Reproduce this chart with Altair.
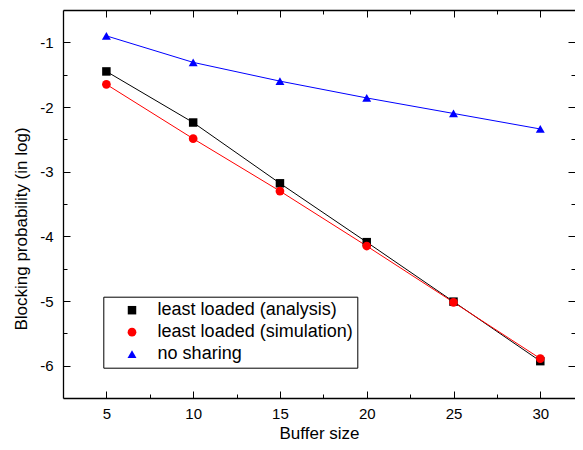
import altair as alt
import pandas as pd

buffer_sizes = [5, 10, 15, 20, 25, 30]
analysis = [-1.45, -2.24, -3.18, -4.09, -5.01, -5.93]
simulation = [-1.65, -2.49, -3.30, -4.15, -5.02, -5.89]
no_sharing = [-0.90, -1.31, -1.60, -1.86, -2.10, -2.34]

series_names = ["least loaded (analysis)", "least loaded (simulation)", "no sharing"]
colors = ["#000000", "#ff0000", "#0000ff"]
shapes = ["square", "circle", "triangle-up"]
marker_sizes = [72, 80, 115]

x_major = [5, 10, 15, 20, 25, 30]
x_minor = [7.5, 12.5, 17.5, 22.5, 27.5]
y_major = [-6, -5, -4, -3, -2, -1]
y_minor = [-5.5, -4.5, -3.5, -2.5, -1.5]

rows = []
for name, vals in zip(series_names, [analysis, simulation, no_sharing]):
    for b, v in zip(buffer_sizes, vals):
        rows.append({"buffer": b, "value": v, "series": name})
df = pd.DataFrame(rows)

FONT = "Liberation Sans"
xscale = alt.Scale(domain=[2.5, 32], nice=False, zero=False)
yscale = alt.Scale(domain=[-6.5, -0.5], nice=False, zero=False)


def tick_axis(values, size, orient):
    return alt.Axis(values=values, orient=orient, labels=False, domain=False, grid=False,
                    ticks=True, tickSize=size, tickColor="black", tickWidth=1,
                    offset=-size, title=None)


LEG = dict(orient="none", legendX=40.3, legendY=286.7, title=None,
           padding=4.5, rowPadding=4, symbolSize=81, symbolOpacity=1,
           symbolOffset=15.2, labelOffset=16.6, symbolStrokeWidth=0, strokeColor="black",
           labelFont=FONT, labelFontSize=18, labelColor="black", labelLimit=400)

base = alt.Chart(df)

lines = base.mark_line(strokeWidth=1).encode(
    x=alt.X("buffer:Q", scale=xscale,
            axis=alt.Axis(values=x_major, orient="bottom", ticks=False, grid=False,
                          domain=True, domainColor="black", domainWidth=1.3,
                          labelFontSize=15, labelFont=FONT, labelColor="black", labelPadding=8,
                          title="Buffer size", titleFont=FONT, titleFontSize=17, titleFontWeight="normal",
                          titleColor="black", titleBaseline="alphabetic", titleY=40)),
    y=alt.Y("value:Q", scale=yscale,
            axis=alt.Axis(values=y_major, orient="left", ticks=False, grid=False,
                          domain=True, domainColor="black", domainWidth=1.3,
                          labelFontSize=15, labelFont=FONT, labelColor="black", labelPadding=10,
                          labelExpr="'' + datum.value",
                          title="Blocking probability (in log)", titleFont=FONT, titleFontSize=17,
                          titleFontWeight="normal", titleColor="black", titleBaseline="alphabetic",
                          titleX=-36.3, titleY=218.5, titleAngle=270)),
    color=alt.Color("series:N", scale=alt.Scale(domain=series_names, range=colors),
                    legend=alt.Legend(**LEG)),
    detail="series:N",
)

points = base.mark_point(filled=True, opacity=1, strokeWidth=0).encode(
    x=alt.X("buffer:Q", scale=xscale, axis=tick_axis(x_major, 7, "bottom")),
    y=alt.Y("value:Q", scale=yscale, axis=tick_axis(y_major, 7, "left")),
    color=alt.Color("series:N", scale=alt.Scale(domain=series_names, range=colors),
                    legend=alt.Legend(**LEG)),
    shape=alt.Shape("series:N", scale=alt.Scale(domain=series_names, range=shapes),
                    legend=alt.Legend(**LEG)),
    size=alt.Size("series:N", scale=alt.Scale(domain=series_names, range=marker_sizes), legend=None),
)

empty = base.transform_filter("datum.buffer < 0").mark_point()

minor_bl = empty.encode(
    x=alt.X("buffer:Q", scale=xscale, axis=tick_axis(x_minor, 4, "bottom")),
    y=alt.Y("value:Q", scale=yscale, axis=tick_axis(y_minor, 4, "left")),
)
major_tr = empty.encode(
    x=alt.X("buffer:Q", scale=xscale, axis=tick_axis(x_major, 7, "top")),
    y=alt.Y("value:Q", scale=yscale, axis=tick_axis(y_major, 7, "right")),
)
minor_tr = empty.encode(
    x=alt.X("buffer:Q", scale=xscale, axis=tick_axis(x_minor, 4, "top")),
    y=alt.Y("value:Q", scale=yscale, axis=tick_axis(y_minor, 4, "right")),
)
frame_top = empty.encode(
    x=alt.X("buffer:Q", scale=xscale,
            axis=alt.Axis(orient="top", labels=False, ticks=False, grid=False, title=None,
                          domain=True, domainColor="black", domainWidth=1.3)),
    y=alt.Y("value:Q", scale=yscale,
            axis=alt.Axis(orient="left", labels=False, ticks=False, grid=False, title=None,
                          domain=False)),
)

chart = alt.layer(lines, points, minor_bl, major_tr, minor_tr, frame_top).resolve_axis(
    x="independent", y="independent"
).properties(
    width=512, height=388,
    autosize=alt.AutoSizeParams(type="none"),
    padding={"left": 55, "top": 2, "right": 0, "bottom": 44},
).configure_view(stroke=None).configure(background="white")

chart.save("out.html", embed_options={"renderer": "svg", "actions": False})
